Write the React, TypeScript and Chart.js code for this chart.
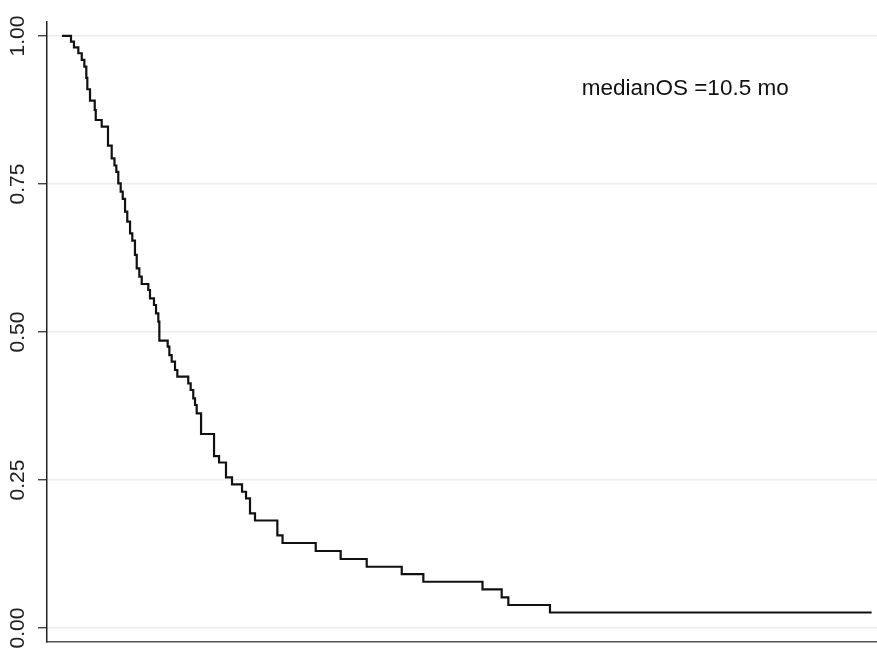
import React, { useEffect, useRef } from "react";
import { Chart, registerables } from "chart.js";

Chart.register(...registerables);

// Kaplan–Meier overall survival: event times (months) and survival after each event
const EVENT_TIMES = [
  0.97, 1.29, 1.76, 2.13, 2.41, 2.62, 2.73, 3.02, 3.53, 3.64,
  4.28, 4.96, 5.36, 5.66, 5.86, 6.07, 6.33, 6.55, 6.8, 7.04,
  7.34, 7.58, 7.87, 8.06, 8.34, 8.6, 9.31, 9.49, 9.92, 10.14,
  10.39, 10.5, 11.4, 11.58, 11.83, 12.19, 12.44, 13.62, 13.88, 14.16,
  14.35, 14.53, 15.0, 16.4, 16.94, 17.69, 18.34, 19.42, 19.85, 20.28,
  20.82, 23.23, 23.79, 27.37, 30.06, 32.87, 36.65, 38.98, 45.36, 47.43,
  48.15, 52.64,
];
const SURVIVAL = [
  0.9904, 0.9809, 0.9708, 0.9595, 0.9481, 0.9291, 0.91, 0.8907, 0.875, 0.8581,
  0.8468, 0.8147, 0.7934, 0.7812, 0.7703, 0.7512, 0.737, 0.7247, 0.7032, 0.6863,
  0.6667, 0.6542, 0.6301, 0.6076, 0.5934, 0.5811, 0.5709, 0.5569, 0.5456, 0.5316,
  0.5174, 0.4853, 0.4752, 0.4611, 0.4498, 0.4358, 0.4245, 0.4133, 0.402, 0.388,
  0.3767, 0.3627, 0.3277, 0.2905, 0.2796, 0.2546, 0.2427, 0.2302, 0.2191, 0.1938,
  0.1816, 0.1566, 0.1436, 0.1301, 0.1166, 0.1035, 0.0912, 0.0782, 0.0654, 0.0519,
  0.0389, 0.0262,
];
const LAST_FOLLOW_UP = 87.34;

const Y_TICKS = [0, 0.25, 0.5, 0.75, 1];
const X_RANGE = [-1.62, 87.92];
const Y_RANGE = [-0.0236, 1.0236];

const MEDIAN_LABEL = "medianOS =10.5 mo";
const MEDIAN_LABEL_POS = { x: 56.06, y: 0.91 };

const FONT = "'Liberation Sans', Arial, Helvetica, sans-serif";

const medianLabelPlugin = {
  id: "medianLabel",
  afterDatasetsDraw(chart: any) {
    const { ctx, scales } = chart;
    const px = scales.x.getPixelForValue(MEDIAN_LABEL_POS.x);
    const py = scales.y.getPixelForValue(MEDIAN_LABEL_POS.y);
    ctx.save();
    ctx.font = `22.5px ${FONT}`;
    ctx.fillStyle = "#111";
    ctx.textAlign = "left";
    ctx.textBaseline = "middle";
    ctx.fillText(MEDIAN_LABEL, px, py);
    ctx.restore();
  },
};

export default function App() {
  const canvasRef = useRef<HTMLCanvasElement | null>(null);

  useEffect(() => {
    if (!canvasRef.current) return;
    const points = [{ x: 0, y: 1 }];
    EVENT_TIMES.forEach((t, i) => points.push({ x: t, y: SURVIVAL[i] }));
    points.push({ x: LAST_FOLLOW_UP, y: SURVIVAL[SURVIVAL.length - 1] });

    const chart = new Chart(canvasRef.current, {
      type: "line",
      data: {
        datasets: [
          {
            data: points,
            stepped: "before",
            borderColor: "#111",
            borderWidth: 2.2,
            pointRadius: 0,
            fill: false,
          },
        ],
      },
      options: {
        animation: false,
        responsive: false,
        layout: { padding: { top: 22, right: 0, left: 0, bottom: 0 } },
        plugins: { legend: { display: false }, tooltip: { enabled: false } },
        scales: {
          x: {
            type: "linear",
            min: X_RANGE[0],
            max: X_RANGE[1],
            grid: { display: false },
            ticks: { display: false },
            border: { color: "#555", width: 1.5 },
            afterFit: (scale: any) => {
              scale.height = 6;
              scale.paddingLeft = 0;
              scale.paddingRight = 0;
            },
          },
          y: {
            type: "linear",
            min: Y_RANGE[0],
            max: Y_RANGE[1],
            afterBuildTicks: (scale: any) => {
              scale.ticks = Y_TICKS.map((v) => ({ value: v }));
            },
            afterFit: (scale: any) => {
              scale.width = 47;
              scale.paddingTop = 0;
              scale.paddingBottom = 0;
            },
            grid: {
              color: "#e7eff1",
              lineWidth: 1.5,
              tickColor: "#222",
              tickLength: 9,
              tickWidth: 1.2,
            },
            border: { color: "#222", width: 1.5 },
            ticks: {
              minRotation: 90,
              maxRotation: 90,
              crossAlign: "center",
              padding: -1,
              color: "#222",
              font: { family: FONT, size: 21 },
              callback: (v: any) => Number(v).toFixed(2),
            },
          },
        },
      },
      plugins: [medianLabelPlugin],
    });
    return () => chart.destroy();
  }, []);

  return (
    <div style={{ position: "absolute", left: 0, top: 0, width: 877, height: 648, background: "#fff" }}>
      <canvas ref={canvasRef} width={877} height={648} />
    </div>
  );
}
